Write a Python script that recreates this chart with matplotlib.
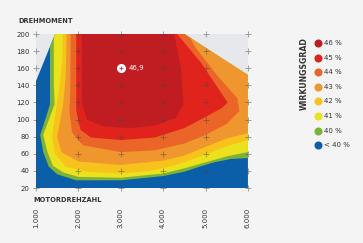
import numpy as np
import matplotlib.pyplot as plt
from matplotlib.patches import Polygon

# Legend / levels
level_labels = ['46 %', '45 %', '44 %', '43 %', '42 %', '41 %', '40 %', '< 40 %']
level_colors = ['#c01d22', '#e0231c', '#ea6527', '#f0962f', '#f7c21c', '#ebe11d', '#7cb23a', '#0a5fa8']

# Full-load envelope (rpm, Nm)
envelope = [(1000, 20), (1000, 145), (1450, 200), (4500, 200), (6000, 152), (6000, 20)]

# Iso-efficiency regions (area at or above the level)
eff40 = [(1330, 215), (1330, 150), (1330, 118), (1250, 105), (1100, 82), (1170, 62), (1300, 45),
         (1500, 36), (1950, 29), (3000, 29), (4000, 34), (4500, 39), (4800, 44), (5200, 50),
         (5600, 54), (6000, 55), (6100, 55), (6100, 215)]
eff41 = [(1420, 215), (1420, 140), (1440, 118), (1170, 82), (1270, 62), (1400, 46), (1650, 38),
         (2000, 33), (3000, 32), (4000, 37), (4500, 43), (5000, 50), (5500, 57), (6000, 62),
         (6100, 62), (6100, 215)]
eff42 = [(1640, 215), (1620, 170), (1560, 140), (1490, 117), (1380, 80), (1450, 60), (1700, 45),
         (2200, 39), (3000, 37), (3700, 40), (4300, 47), (5000, 59), (5500, 69), (6000, 76),
         (6100, 76), (6100, 215)]
eff43 = [(1730, 215), (1700, 150), (1640, 117), (1500, 80), (1600, 62), (2000, 51), (3000, 47),
         (4000, 52), (4500, 58), (5000, 68), (5500, 78), (6000, 84), (6100, 84), (6100, 215)]
eff44 = [(1820, 215), (1810, 140), (1790, 110), (1850, 85), (2100, 70), (3000, 62), (3800, 64),
         (4500, 72), (5000, 82), (5500, 95), (5800, 110), (5750, 125), (5300, 150), (4750, 185),
         (4430, 215)]
eff45 = [(1950, 215), (1950, 110), (2050, 88), (2300, 79), (3000, 76), (3800, 79), (4500, 90),
         (5000, 103), (5400, 114), (5520, 120), (4900, 166), (4330, 200), (4300, 215)]
eff46 = [(2080, 215), (2080, 120), (2200, 100), (2600, 92), (3200, 90), (3800, 93), (4300, 102),
         (4480, 118), (4420, 160), (4260, 200), (4250, 215)]

peak_rpm, peak_nm, peak_label = 3000, 160, '46,9'

x_ticks = [1000, 2000, 3000, 4000, 5000, 6000]
x_labels = ['1.000', '2.000', '3.000', '4.000', '5.000', '6.000']
y_ticks = [20, 40, 60, 80, 100, 120, 140, 160, 180, 200]

text_col = '#333333'

fig = plt.figure(figsize=(3.63, 2.43), dpi=100, facecolor='#f4f4f4')
ax = fig.add_axes([0.0992, 0.2263, 0.5838, 0.6337])
ax.set_facecolor('#e6e8ec')
ax.set_xlim(1000, 6000)
ax.set_ylim(20, 200)

env = Polygon(envelope, closed=True, facecolor=level_colors[7], edgecolor='none', zorder=1)
ax.add_patch(env)

regions = [eff40, eff41, eff42, eff43, eff44, eff45, eff46]
for i, reg in enumerate(regions):
    col = level_colors[6 - i]
    p = Polygon(reg, closed=True, facecolor=col, edgecolor='none', zorder=2 + i)
    ax.add_patch(p)
    p.set_clip_path(env)

# grid crosses
gx, gy = np.meshgrid(x_ticks, y_ticks)
ax.plot(gx.ravel(), gy.ravel(), '+', color='#444444', alpha=0.55, markersize=4.5,
        markeredgewidth=0.6, zorder=20, clip_on=False)

# peak marker
ax.plot(peak_rpm, peak_nm, 'o', color='white', markersize=5.5, zorder=21)
ax.plot(peak_rpm, peak_nm, '+', color='#d0302a', markersize=2.5, markeredgewidth=0.6, zorder=22)
ax.text(peak_rpm + 190, peak_nm, peak_label, color='white', fontsize=5, va='center',
        ha='left', zorder=22)

for s in ax.spines.values():
    s.set_visible(False)
ax.set_xticks(x_ticks)
ax.set_xticklabels(x_labels, rotation=90, fontsize=5, color=text_col)
ax.set_yticks(y_ticks)
ax.set_yticklabels([str(v) for v in y_ticks], fontsize=5, color=text_col)
ax.tick_params(axis='x', length=0, pad=14)
ax.tick_params(axis='y', length=0, pad=4.5)

fig.text(18 / 363, 1 - 21 / 243, 'DREHMOMENT', fontsize=4.8, fontweight='bold',
         color=text_col, va='center', ha='left')
fig.text(33 / 363, 1 - 200 / 243, 'MOTORDREHZAHL', fontsize=4.8, fontweight='bold',
         color=text_col, va='center', ha='left')

# legend in a pixel-space overlay
lax = fig.add_axes([0, 0, 1, 1], facecolor='none')
lax.set_xlim(0, 363)
lax.set_ylim(243, 0)
lax.axis('off')
lax.text(304, 74, 'WIRKUNGSGRAD', fontsize=5.6, fontweight='bold',
         color=text_col, va='center', ha='center', rotation=90)
for i, (lab, col) in enumerate(zip(level_labels, level_colors)):
    yy = 43 + i * 14.6
    lax.plot(318, yy, 'o', color=col, markersize=5.8, markeredgewidth=0)
    lax.text(324, yy, lab, fontsize=5, color=text_col, va='center', ha='left')

fig.savefig('out.png', dpi=100, facecolor=fig.get_facecolor())
